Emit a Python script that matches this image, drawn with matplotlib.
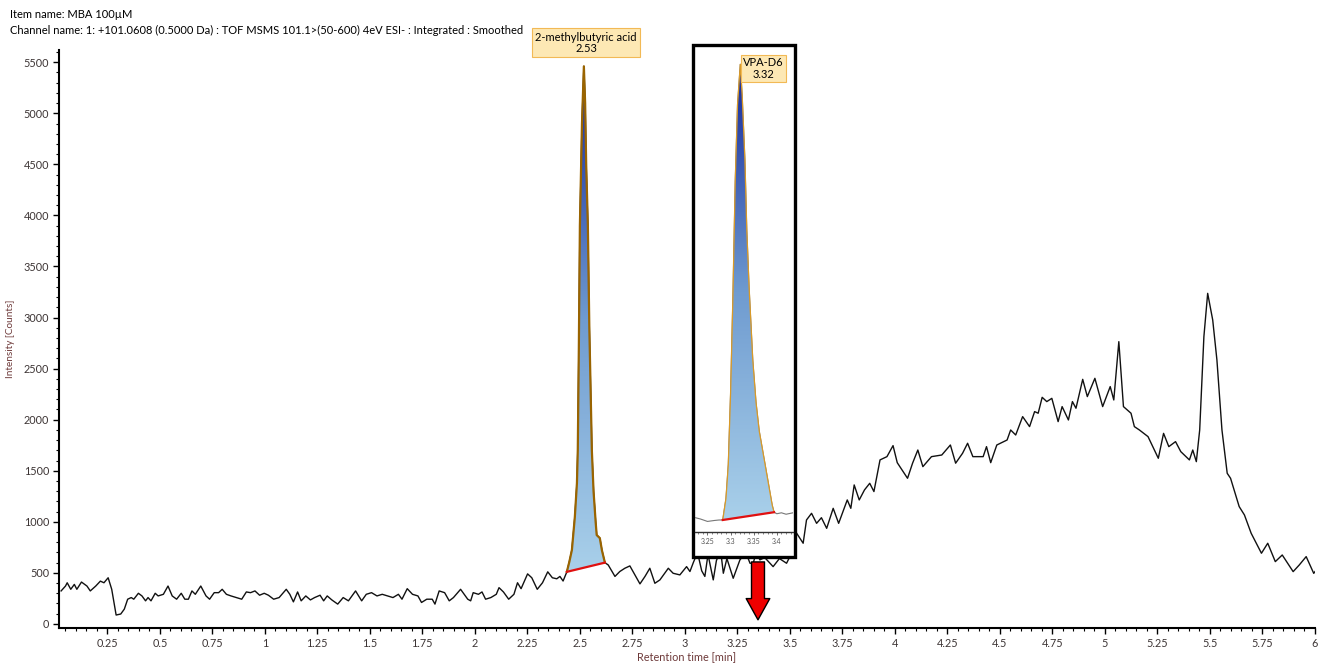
import matplotlib
matplotlib.use("Agg")
import matplotlib.pyplot as plt
import numpy as np
from matplotlib.patches import Polygon, Rectangle
from matplotlib.colors import LinearSegmentedColormap
from matplotlib.ticker import MultipleLocator, FuncFormatter

plt.rcParams['font.family'] = ['Lato', 'DejaVu Sans']

# chromatogram, baseline before the first peak
rt_left = [0.03, 0.051, 0.059, 0.076, 0.093, 0.105, 0.127, 0.153, 0.169, 0.195,
           0.217, 0.234, 0.254, 0.271, 0.292, 0.314, 0.331, 0.347, 0.364, 0.376,
           0.398, 0.415, 0.432, 0.444, 0.458, 0.478, 0.492, 0.517, 0.539, 0.559,
           0.58, 0.602, 0.619, 0.636, 0.653, 0.669, 0.695, 0.72, 0.737, 0.759,
           0.78, 0.797, 0.817, 0.839, 0.864, 0.89, 0.912, 0.932, 0.953, 0.975,
           0.997, 1.017, 1.042, 1.068, 1.102, 1.119, 1.136, 1.156, 1.173, 1.195,
           1.217, 1.237, 1.263, 1.28, 1.297, 1.319, 1.347, 1.373, 1.398, 1.432,
           1.461, 1.483, 1.508, 1.534, 1.559, 1.585, 1.61, 1.636, 1.653, 1.678,
           1.703, 1.729, 1.746, 1.771, 1.797, 1.81, 1.83, 1.856, 1.878, 1.898,
           1.932, 1.966, 1.98, 1.992, 2.017, 2.034, 2.051, 2.076, 2.102, 2.115,
           2.136, 2.161, 2.186, 2.203, 2.22, 2.251, 2.271, 2.297, 2.322, 2.347,
           2.369, 2.39, 2.405, 2.42]
int_left = [323, 371, 403, 339, 387, 339, 410, 371, 323, 371,
            419, 403, 452, 339, 87, 97, 145, 242, 258, 242,
            300, 274, 226, 258, 226, 300, 274, 290, 371, 274,
            242, 300, 242, 242, 323, 290, 371, 274, 242, 306,
            306, 339, 290, 274, 258, 242, 313, 306, 323, 281,
            300, 281, 242, 258, 339, 290, 216, 313, 226, 274,
            235, 258, 281, 226, 274, 235, 194, 258, 226, 323,
            226, 290, 306, 274, 290, 274, 258, 290, 242, 345,
            290, 274, 210, 242, 242, 194, 323, 306, 226, 258,
            339, 242, 226, 306, 290, 313, 242, 258, 290, 355,
            313, 242, 290, 403, 345, 490, 452, 339, 403, 510,
            452, 442, 465, 420]

# 2-methylbutyric acid peak
rt_pk1 = [2.438, 2.45, 2.462, 2.476, 2.486, 2.49, 2.495, 2.50, 2.51, 2.519,
          2.525, 2.53, 2.538, 2.545, 2.557, 2.565, 2.575, 2.58, 2.595, 2.605, 2.619]
int_pk1 = [510, 610, 724, 1047, 1380, 1700, 2700, 3900, 4900, 5460,
           5100, 4500, 3900, 2900, 1700, 1300, 1000, 870, 840, 720, 600]

rt_mid = [2.635, 2.667, 2.69, 2.714, 2.738, 2.762, 2.786, 2.81, 2.833, 2.857,
          2.881, 2.921, 2.944, 2.976, 3.008, 3.024, 3.04, 3.06, 3.08, 3.095,
          3.11, 3.135, 3.15, 3.17, 3.183, 3.2, 3.23, 3.262, 3.29, 3.31,
          3.325, 3.34, 3.357, 3.38, 3.42, 3.45, 3.484, 3.51, 3.532, 3.563,
          3.579, 3.603, 3.627, 3.65, 3.675, 3.706]
int_mid = [577, 465, 513, 545, 568, 480, 392, 465, 545, 398,
           431, 545, 496, 480, 561, 513, 600, 700, 520, 465,
           680, 431, 620, 720, 496, 640, 447, 627, 700, 594,
           594, 700, 627, 650, 561, 640, 594, 700, 888, 790,
           1018, 1083, 985, 1040, 936, 1132]

rt_right = [3.732, 3.773, 3.79, 3.806, 3.83, 3.855, 3.88, 3.9, 3.929, 3.962,
            3.991, 4.011, 4.06, 4.084, 4.109, 4.133, 4.174, 4.223, 4.264, 4.289,
            4.322, 4.346, 4.371, 4.42, 4.436, 4.456, 4.485, 4.534, 4.551, 4.575,
            4.608, 4.641, 4.665, 4.682, 4.701, 4.723, 4.747, 4.777, 4.796, 4.826,
            4.845, 4.862, 4.894, 4.916, 4.952, 4.989, 5.025, 5.042, 5.066, 5.088,
            5.124, 5.14, 5.164, 5.205, 5.254, 5.279, 5.304, 5.336, 5.361, 5.402,
            5.418, 5.435, 5.451, 5.471, 5.489, 5.513, 5.533, 5.557, 5.582, 5.598,
            5.639, 5.664, 5.696, 5.745, 5.775, 5.811, 5.844, 5.896, 5.925, 5.958,
            5.994, 6.0]
int_right = [985, 1214, 1132, 1361, 1214, 1312, 1377, 1296, 1606, 1638,
             1746, 1579, 1426, 1574, 1703, 1540, 1638, 1654, 1752, 1574,
             1671, 1769, 1638, 1638, 1736, 1579, 1752, 1801, 1899, 1850,
             2030, 1932, 2079, 2063, 2219, 2177, 2209, 1981, 2128, 1997,
             2177, 2112, 2395, 2226, 2405, 2128, 2324, 2193, 2764, 2128,
             2063, 1932, 1899, 1834, 1622, 1866, 1736, 1785, 1687, 1606,
             1703, 1589, 1899, 2813, 3237, 2976, 2585, 1899, 1475, 1426,
             1149, 1067, 888, 692, 790, 610, 675, 512, 577, 659,
             495, 512]

# VPA-D6 inset trace
rt_vpa = [3.223, 3.235, 3.25, 3.265, 3.275, 3.283, 3.29, 3.295, 3.30, 3.305,
          3.31, 3.315, 3.321, 3.325, 3.331, 3.335, 3.34, 3.348, 3.355, 3.362,
          3.373, 3.382, 3.39, 3.394, 3.40, 3.41, 3.42, 3.435]
int_vpa = [100, 85, 60, 70, 75, 75, 300, 650, 1400, 2400,
           3600, 4400, 4820, 4500, 3823, 3100, 2500, 1740, 1300, 1000,
           698, 450, 230, 156, 140, 150, 135, 150]
vpa_start, vpa_end = 5, 23

rt = rt_left + rt_pk1 + rt_mid + rt_right
inten = int_left + int_pk1 + int_mid + int_right

W, H = 1319, 663
TXT = '#3d3535'
LBL = '#6e3a3a'


def gradient_peak(ax, x, y, edge, lw, z):
    verts = list(zip(x, y))
    poly = Polygon(verts, closed=True, facecolor='none', edgecolor='none')
    ax.add_patch(poly)
    cmap = LinearSegmentedColormap.from_list('pk', ['#a9d0ea', '#6f9bd0', '#14279a'])
    grad = np.linspace(0, 1, 256).reshape(-1, 1)
    im = ax.imshow(grad, cmap=cmap, aspect='auto', origin='lower',
                   extent=[min(x), max(x), min(y), max(y)], zorder=z)
    im.set_clip_path(poly)
    ax.plot(x, y, color=edge, lw=lw, zorder=z + 1)
    ax.plot([x[0], x[-1]], [y[0], y[-1]], color='#e01010', lw=1.6, zorder=z + 2)


fig = plt.figure(figsize=(W / 100, H / 100), dpi=100)
ax = fig.add_axes([59 / W, 1 - 628 / H, (1315 - 59) / W, (628 - 50) / H])

ax.plot(rt, inten, color='#111111', lw=1.0, zorder=2)
gradient_peak(ax, rt_pk1, int_pk1, '#9a6400', 1.6, 3)

ax.set_xlim(0.02, 6.0)
ax.set_ylim(-40, 5620)
for s in ['top', 'right']:
    ax.spines[s].set_visible(False)
for s in ['left', 'bottom']:
    ax.spines[s].set_linewidth(1.5)
ax.xaxis.set_major_locator(MultipleLocator(0.25))
ax.xaxis.set_minor_locator(MultipleLocator(0.05))
ax.yaxis.set_major_locator(MultipleLocator(500))
ax.yaxis.set_minor_locator(MultipleLocator(100))
ax.xaxis.set_major_formatter(FuncFormatter(lambda v, p: '%g' % v))
ax.tick_params(which='major', length=4, width=1, labelsize=7.8, labelcolor=TXT, pad=3)
ax.tick_params(which='minor', length=2.5, width=0.8)
ax.set_xlabel('Retention time [min]', fontsize=7.8, color=LBL, labelpad=2)
ax.set_ylabel('Intensity [Counts]', fontsize=7.2, color=LBL, labelpad=6)

# box around the inset
ax.add_patch(Rectangle((3.038, 656), 3.524 - 3.038, 5668 - 656, facecolor='white',
                       edgecolor='black', lw=2.4, zorder=6, clip_on=False))

ax.text(2.53, 5690, '2-methylbutyric acid\n2.53', ha='center', va='center', fontsize=8,
        linespacing=1.05, zorder=8,
        bbox=dict(boxstyle='square,pad=0.3', fc='#fde8b4', ec='#f2b955', lw=0.8))

ax.annotate('', xy=(3.348, 40), xytext=(3.348, 607), zorder=9,
            arrowprops=dict(arrowstyle='simple,head_length=0.9,head_width=1.0,tail_width=0.55',
                            mutation_scale=17, fc='#ee0000', ec='black', lw=1.0,
                            shrinkA=0, shrinkB=0))

# inset chromatogram of the internal standard
axi = fig.add_axes([695 / W, 1 - 532 / H, (793 - 695) / W, (532 - 47) / H])
axi.patch.set_alpha(0)
axi.plot(rt_vpa, int_vpa, color='#777777', lw=0.8, zorder=2)
gradient_peak(axi, rt_vpa[vpa_start:vpa_end + 1], int_vpa[vpa_start:vpa_end + 1],
              '#d99a28', 0.9, 3)
axi.set_xlim(3.223, 3.435)
axi.set_ylim(-50, 5000)
for s in ['top', 'right', 'left']:
    axi.spines[s].set_visible(False)
axi.spines['bottom'].set_color('#333333')
axi.spines['bottom'].set_linewidth(1.0)
axi.set_yticks([])
axi.xaxis.set_major_locator(MultipleLocator(0.05))
axi.xaxis.set_minor_locator(MultipleLocator(0.01))
axi.xaxis.set_major_formatter(FuncFormatter(lambda v, p: '%g' % v))
axi.tick_params(which='major', length=2.5, width=0.6, labelsize=5, labelcolor='#555555', pad=2,
                color='#555555')
axi.tick_params(which='minor', length=1.5, width=0.5, color='#555555')
axi.text(3.371, 4775, 'VPA-D6\n3.32', ha='center', va='center', fontsize=8, linespacing=1.05,
         zorder=8, bbox=dict(boxstyle='square,pad=0.22', fc='#fde8b4', ec='#f2b955', lw=0.8))

fig.text(10 / W, 1 - 14 / H, 'Item name: MBA 100µM', fontsize=8, va='center', ha='left')
fig.text(10 / W, 1 - 30 / H,
         'Channel name: 1: +101.0608 (0.5000 Da) : TOF MSMS 101.1>(50-600) 4eV ESI- : Integrated : Smoothed',
         fontsize=8, va='center', ha='left')

fig.savefig('out.png', dpi=100)
